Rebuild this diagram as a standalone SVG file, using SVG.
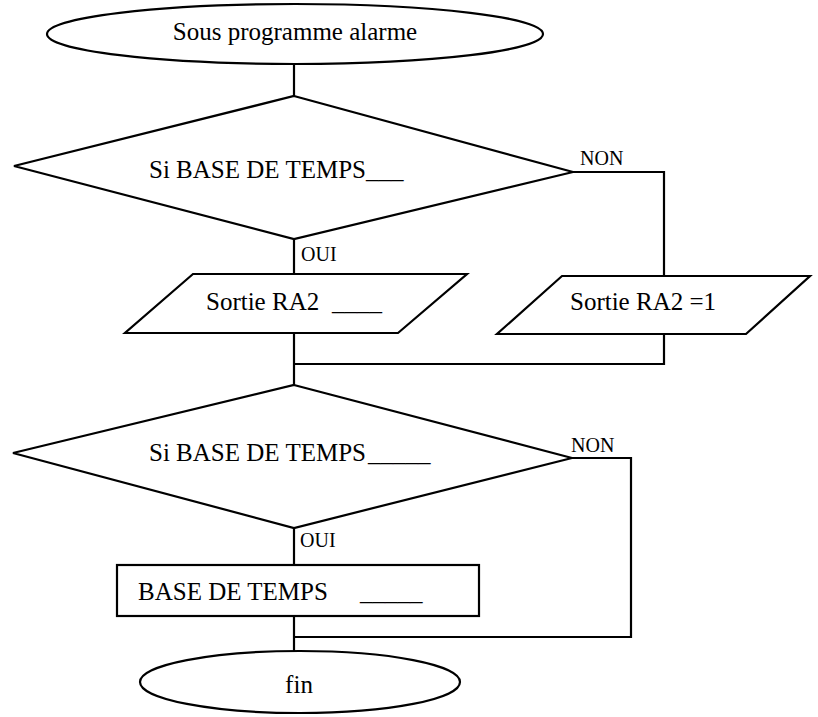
<svg xmlns="http://www.w3.org/2000/svg" width="818" height="717" viewBox="0 0 818 717">
<style>
.s{fill:#fff;stroke:#000;stroke-width:2.2;stroke-linejoin:miter}
.c{fill:none;stroke:#000;stroke-width:2.2}
text{font-family:'Liberation Serif','Times New Roman','DejaVu Serif',serif;fill:#000}
.t{font-size:25px}
.l{font-size:20px}
</style>
<rect width="818" height="717" fill="#fff"/>
<g id="connectors">
<polyline class="c" points="294,64 294,96"/>
<polyline class="c" points="294,239 294,274"/>
<polyline class="c" points="573,172 664,172 664,276"/>
<polyline class="c" points="294,333 294,385"/>
<polyline class="c" points="664,334 664,364 294,364"/>
<polyline class="c" points="294,528 294,565"/>
<polyline class="c" points="572,458 631,458 631,637 294,637"/>
<polyline class="c" points="294,616 294,651"/>
<text class="l" x="580" y="165" font-family="Liberation Serif, serif">NON</text>
<text class="l" x="301" y="261" font-family="Liberation Serif, serif">OUI</text>
<text class="l" x="571" y="452" font-family="Liberation Serif, serif">NON</text>
<text class="l" x="300" y="547" font-family="Liberation Serif, serif">OUI</text>
</g>
<g id="start">
<ellipse class="s" cx="295" cy="34" rx="248" ry="30"/>
<text class="t" x="295" y="40" text-anchor="middle" font-family="Liberation Serif, serif">Sous programme alarme</text>
</g>
<g id="decision1">
<polygon class="s" points="294,96 573,172 294,239 14,166"/>
<text class="t" x="149" y="178" font-family="Liberation Serif, serif">Si BASE DE TEMPS___</text>
</g>
<g id="output1">
<polygon class="s" points="193,274 467,274 398,333 125,333"/>
<text class="t" x="206" y="310" font-family="Liberation Serif, serif">Sortie RA2 <tspan x="332">____</tspan></text>
</g>
<g id="output2">
<polygon class="s" points="562,276 810,276 746,334 497,334"/>
<text class="t" x="570" y="310" font-family="Liberation Serif, serif">Sortie RA2 =1</text>
</g>
<g id="decision2">
<polygon class="s" points="294,385 572,458 294,528 13,453"/>
<text class="t" x="149" y="461" font-family="Liberation Serif, serif">Si BASE DE TEMPS <tspan x="368">_____</tspan></text>
</g>
<g id="process">
<rect class="s" x="117" y="565" width="362" height="51"/>
<text class="t" x="138" y="600" font-family="Liberation Serif, serif">BASE DE TEMPS <tspan x="360">_____</tspan></text>
</g>
<g id="end">
<ellipse class="s" cx="300" cy="682" rx="160" ry="31"/>
<text class="t" x="299" y="693" text-anchor="middle" font-family="Liberation Serif, serif">fin</text>
</g>
</svg>
